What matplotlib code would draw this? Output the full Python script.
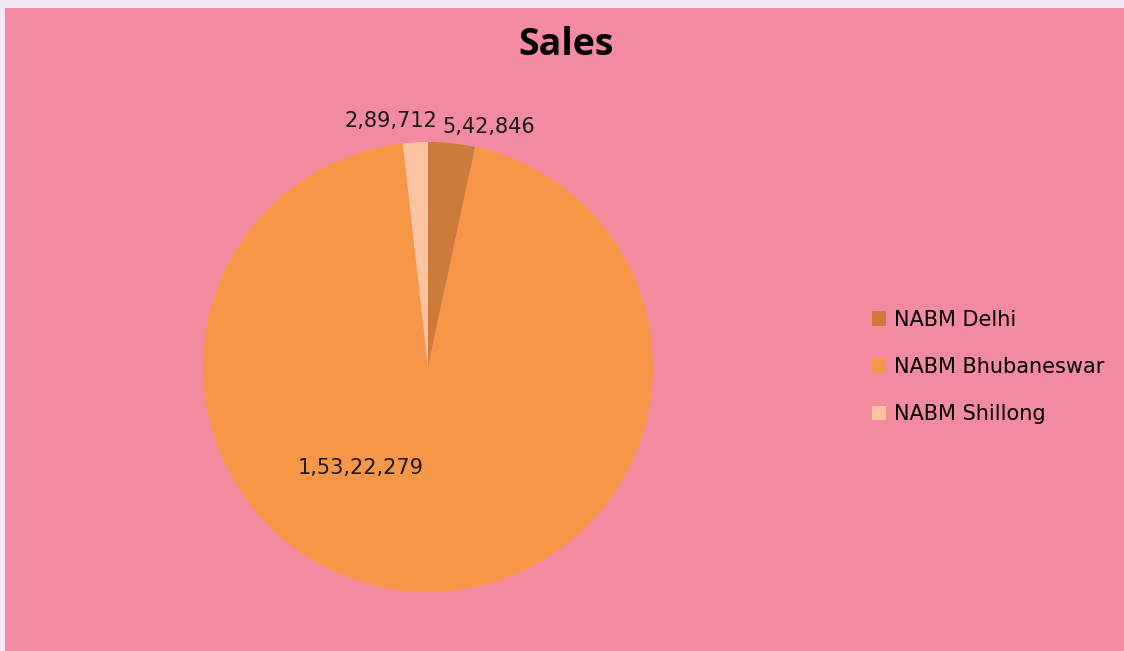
import matplotlib.pyplot as plt

# data
branches = ['NABM Delhi', 'NABM Bhubaneswar', 'NABM Shillong']
sales = [542846, 15322279, 289712]
sales_labels = ['5,42,846', '1,53,22,279', '2,89,712']
colors = ['#CD7B3A', '#F79646', '#FBC4A0']

fig = plt.figure(figsize=(11.24, 6.51), dpi=100)
fig.patch.set_facecolor('#F2E8FA')

# pink chart area
bg = fig.add_axes([5/1124, 0, 1 - 5/1124, 1 - 8/651], zorder=-1)
bg.set_facecolor('#F28AA0')
bg.set_xticks([])
bg.set_yticks([])
for s in bg.spines.values():
    s.set_visible(False)

ax = fig.add_axes([203/1124, 59/651, 450/1124, 450/651])
wedges, _ = ax.pie(sales, colors=colors, startangle=90, counterclock=False,
                   radius=1, wedgeprops=dict(linewidth=0))
ax.set_xlim(-1, 1)
ax.set_ylim(-1, 1)
ax.set_aspect('equal')
ax.axis('off')

# value labels (Excel-like placement)
lab_font = dict(fontsize=15, family='DejaVu Sans', color='#1a1a1a')
ax.text(0.065, 1.068, sales_labels[0], ha='left', va='center', **lab_font)
ax.text(-0.30, -0.45, sales_labels[1], ha='center', va='center', **lab_font)
ax.text(0.04, 1.095, sales_labels[2], ha='right', va='center', **lab_font)

fig.text(566/1124, 1 - 45/651, 'Sales', ha='center', va='center',
         fontsize=27, fontweight='bold', family='Open Sans')

leg = fig.legend(wedges, branches, loc='center left',
                 bbox_to_anchor=(853/1124, 1 - 367/651), frameon=False,
                 prop={'family': 'DejaVu Sans', 'size': 15},
                 handlelength=0.7, handleheight=0.7, handletextpad=0.35,
                 labelspacing=1.3)

fig.savefig('out.png', dpi=100, facecolor=fig.get_facecolor())
